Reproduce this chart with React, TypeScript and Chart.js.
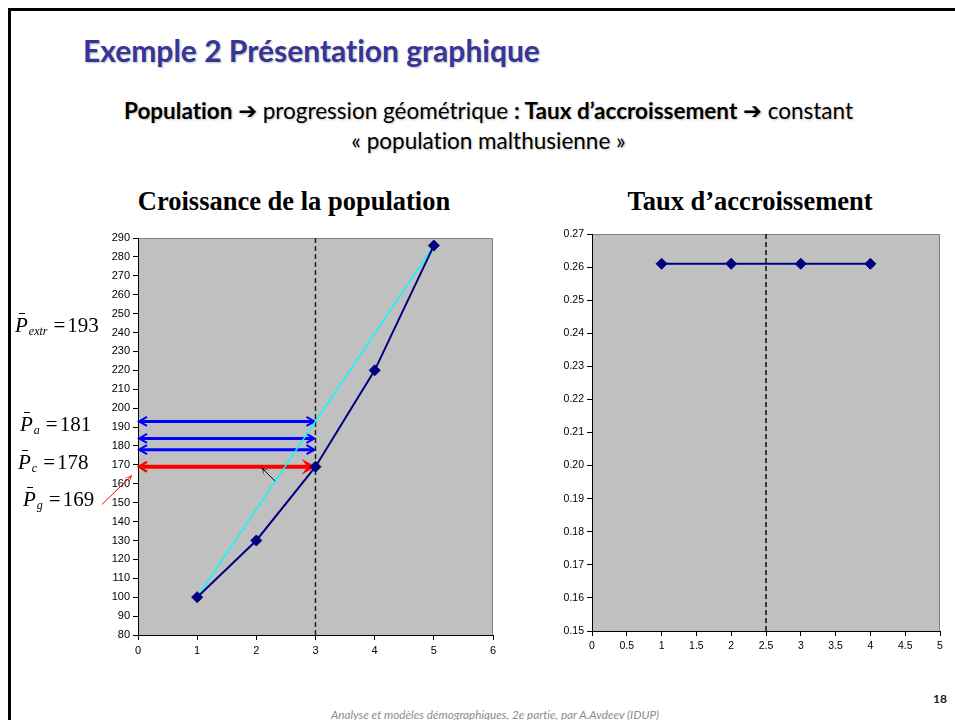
import React, { useEffect, useRef } from 'react';
import { Chart, registerables } from 'chart.js';
Chart.register(...registerables);

// ---- data ----
const years = [1, 2, 3, 4, 5];
const population = [100, 130, 169, 220, 286];
const chordYears = [1, 5];
const chordValues = [100, 286];
const refYear = 3;
const popAxis = [80, 290];
const meanLevels = [193, 184, 178]; // blue arrows
const geomMean = 169; // red arrow
const arrowSpan = [0, 3];
const pointerArrow = [[2.33, 161], [2.09, 168.5]];
const outerArrow = [[-0.61, 149], [-0.1, 164.5]];

const rateYears = [1, 2, 3, 4];
const growthRate = [0.261, 0.261, 0.261, 0.261];
const rateRef = 2.5;
const rateAxis = [0.15, 0.27];

const meanLabels = [
  { sub: 'extr', value: '193' },
  { sub: 'a', value: '181' },
  { sub: 'c', value: '178' },
  { sub: 'g', value: '169' },
];

const TICK_FONT = '"Liberation Sans", Arial, sans-serif';

const plotBg = {
  id: 'plotBg',
  beforeDraw(chart: any) {
    const { ctx, chartArea: a } = chart;
    ctx.save();
    ctx.fillStyle = '#C0C0C0';
    ctx.fillRect(a.left, a.top, a.right - a.left, a.bottom - a.top);
    ctx.strokeStyle = '#808080';
    ctx.lineWidth = 1;
    ctx.beginPath();
    ctx.moveTo(a.left, a.top + 0.5);
    ctx.lineTo(a.right - 0.5, a.top + 0.5);
    ctx.lineTo(a.right - 0.5, a.bottom);
    ctx.stroke();
    ctx.restore();
  },
};

function head(ctx: any, x1: number, y1: number, x2: number, y2: number, len: number, half: number, filled: boolean, notch = 0) {
  const ang = Math.atan2(y2 - y1, x2 - x1);
  const ux = Math.cos(ang), uy = Math.sin(ang);
  const px = -uy, py = ux;
  const bx = x2 - len * ux, by = y2 - len * uy;
  ctx.beginPath();
  if (filled) {
    ctx.moveTo(x2, y2);
    ctx.lineTo(bx + half * px, by + half * py);
    ctx.lineTo(x2 - notch * ux, y2 - notch * uy);
    ctx.lineTo(bx - half * px, by - half * py);
    ctx.closePath();
    ctx.fill();
  } else {
    ctx.moveTo(bx + half * px, by + half * py);
    ctx.lineTo(x2, y2);
    ctx.lineTo(bx - half * px, by - half * py);
    ctx.stroke();
  }
}

const arrowsPlugin = {
  id: 'arrows',
  beforeDatasetsDraw(chart: any) {
    const { ctx, scales } = chart;
    const X = (v: number) => scales.x.getPixelForValue(v);
    const Y = (v: number) => scales.y.getPixelForValue(v);
    ctx.save();
    ctx.lineCap = 'butt';
    ctx.lineJoin = 'miter';
    // blue arrows
    meanLevels.forEach((lv) => {
      const x1 = X(arrowSpan[0]) + 1, x2 = X(arrowSpan[1]) - 1, y = Y(lv);
      ctx.strokeStyle = '#0000FF';
      ctx.lineWidth = 3;
      ctx.beginPath();
      ctx.moveTo(x1 + 1, y);
      ctx.lineTo(x2 - 1, y);
      ctx.stroke();
      ctx.lineWidth = 2;
      head(ctx, x2, y, x1, y, 8, 4.5, false);
      head(ctx, x1, y, x2, y, 8, 4.5, false);
    });
    // red arrow
    {
      const x1 = X(arrowSpan[0]) + 1, x2 = X(arrowSpan[1]), y = Y(geomMean);
      ctx.strokeStyle = '#FF0000';
      ctx.fillStyle = '#FF0000';
      ctx.lineWidth = 4;
      ctx.beginPath();
      ctx.moveTo(x1 + 1, y);
      ctx.lineTo(x2 - 8, y);
      ctx.stroke();
      ctx.lineWidth = 2.5;
      head(ctx, x2, y, x1, y, 8, 5, false);
      head(ctx, x1, y, x2, y, 14, 8, true, 8);
    }
    // black pointer
    {
      const [a, b] = pointerArrow;
      const x1 = X(a[0]), y1 = Y(a[1]), x2 = X(b[0]), y2 = Y(b[1]);
      ctx.strokeStyle = '#000';
      ctx.fillStyle = '#000';
      ctx.lineWidth = 1;
      ctx.beginPath();
      ctx.moveTo(x1, y1);
      ctx.lineTo(x2, y2);
      ctx.stroke();
      head(ctx, x1, y1, x2, y2, 8, 4, true, 2);
    }
    // outer red pointer
    {
      const [a, b] = outerArrow;
      const x1 = X(a[0]), y1 = Y(a[1]), x2 = X(b[0]), y2 = Y(b[1]);
      ctx.strokeStyle = '#FF0000';
      ctx.fillStyle = '#FF0000';
      ctx.lineWidth = 1;
      ctx.beginPath();
      ctx.moveTo(x1, y1);
      ctx.lineTo(x2, y2);
      ctx.stroke();
      head(ctx, x1, y1, x2, y2, 9, 4, true, 2);
    }
    ctx.restore();
  },
};

function axisCommon(min: number, max: number, step: number, fontSize: number, fixed: number, isX: boolean, fmt?: (v: number) => string) {
  return {
    type: 'linear',
    min,
    max,
    ticks: {
      stepSize: step,
      autoSkip: false,
      maxRotation: 0,
      color: '#000',
      padding: isX ? 4 : 3,
      font: { family: TICK_FONT, size: fontSize },
      ...(fmt ? { callback: (v: any) => fmt(Number(v)) } : {}),
    },
    grid: { display: true, drawOnChartArea: false, drawTicks: true, tickLength: 5, color: '#000' },
    border: { display: true, color: '#000', width: 1 },
    afterFit(scale: any) {
      if (isX) scale.height = fixed;
      else scale.width = fixed;
    },
  };
}

function useChart(ref: any, config: () => any) {
  useEffect(() => {
    const chart = new Chart(ref.current, config());
    return () => chart.destroy();
  }, []);
}

function PopChart() {
  const ref = useRef<HTMLCanvasElement>(null);
  useChart(ref, () => ({
    type: 'scatter',
    data: {
      datasets: [
        {
          data: years.map((x, i) => ({ x, y: population[i] })),
          showLine: true,
          borderColor: '#000080',
          backgroundColor: '#000080',
          borderWidth: 2,
          pointStyle: 'rectRot',
          pointRadius: 5.5,
          pointBorderWidth: 1,
        },
        {
          data: chordYears.map((x, i) => ({ x, y: chordValues[i] })),
          showLine: true,
          borderColor: '#00FFFF',
          borderWidth: 1.5,
          pointRadius: 0,
        },
        {
          data: popAxis.map((y) => ({ x: refYear, y })),
          showLine: true,
          borderColor: '#222',
          borderWidth: 1.5,
          borderDash: [5, 3],
          pointRadius: 0,
        },
      ],
    },
    options: {
      animation: false,
      responsive: false,
      devicePixelRatio: 1,
      layout: { padding: { left: 98, right: 27, top: 18, bottom: 5 } },
      plugins: { legend: { display: false }, tooltip: { enabled: false } },
      scales: {
        x: axisCommon(0, 6, 1, 11, 30, true),
        y: axisCommon(popAxis[0], popAxis[1], 10, 11, 40, false),
      },
    },
    plugins: [plotBg, arrowsPlugin],
  }));
  return <canvas ref={ref} width={520} height={450} style={{ position: 'absolute', left: 0, top: 220, width: 520, height: 450 }} />;
}

function RateChart() {
  const ref = useRef<HTMLCanvasElement>(null);
  useChart(ref, () => ({
    type: 'scatter',
    data: {
      datasets: [
        {
          data: rateYears.map((x, i) => ({ x, y: growthRate[i] })),
          showLine: true,
          borderColor: '#000080',
          backgroundColor: '#000080',
          borderWidth: 2,
          pointStyle: 'rectRot',
          pointRadius: 5.5,
          pointBorderWidth: 1,
        },
        {
          data: rateAxis.map((y) => ({ x: rateRef, y })),
          showLine: true,
          borderColor: '#111',
          borderWidth: 1.5,
          borderDash: [5, 3],
          pointRadius: 0,
        },
      ],
    },
    options: {
      animation: false,
      responsive: false,
      devicePixelRatio: 1,
      layout: { padding: { left: 17, right: 15, top: 14, bottom: 9 } },
      plugins: { legend: { display: false }, tooltip: { enabled: false } },
      scales: {
        x: axisCommon(0, 5, 0.5, 10.5, 30, true, (v) => String(Number(v.toFixed(1)))),
        y: axisCommon(rateAxis[0], rateAxis[1], 0.01, 10.5, 45, false, (v) => v.toFixed(2)),
      },
    },
    plugins: [plotBg],
  }));
  return <canvas ref={ref} width={425} height={450} style={{ position: 'absolute', left: 530, top: 220, width: 425, height: 450 }} />;
}

function MeanLabel({ sub, value, left, top }: any) {
  return (
    <div style={{ position: 'absolute', left, top, font: '21px "Liberation Serif", "Times New Roman", serif', lineHeight: 1, whiteSpace: 'nowrap', color: '#000' }}>
      <span style={{ fontStyle: 'italic', position: 'relative' }}>
        P
        <span style={{ position: 'absolute', left: 4, top: 0, width: 6, height: 1, background: '#000' }} />
      </span>
      <span style={{ fontStyle: 'italic', fontSize: 12, position: 'relative', top: 3, marginLeft: 1 }}>{sub}</span>
      <span style={{ marginLeft: 6 }}>=</span>
      <span style={{ marginLeft: 2 }}>{value}</span>
    </div>
  );
}

const labelPos = [
  { left: 15, top: 315 },
  { left: 20, top: 414 },
  { left: 18, top: 452 },
  { left: 23, top: 489 },
];

export default function App() {
  const sans = 'Lato, "DejaVu Sans", sans-serif';
  const shadow = '1px 1px 2px rgba(0,0,0,0.25)';
  const noLig = { fontVariantLigatures: 'none' as const };
  return (
    <div style={{ position: 'absolute', left: 0, top: 0, width: 955, height: 720, overflow: 'hidden', background: '#fff' }}>
      <div style={{ position: 'absolute', left: 8, top: 8, width: 960, height: 720, borderTop: '3px solid #000', borderLeft: '3px solid #000' }} />
      <div style={{ position: 'absolute', left: 83, top: 35, font: `bold 30px ${sans}`, lineHeight: 1, color: '#35359A', whiteSpace: 'nowrap', textShadow: shadow, ...noLig }}>
        Exemple 2 Présentation graphique
      </div>
      <div style={{ position: 'absolute', left: 0, width: 977, top: 96, font: `22.5px ${sans}`, lineHeight: '29px', color: '#000', textAlign: 'center', whiteSpace: 'nowrap', textShadow: shadow, ...noLig }}>
        <div>
          <b>Population</b> <b style={{ fontFamily: '"DejaVu Sans"' }}>➔</b> progression géométrique <b>: Taux d’accroissement</b>{' '}
          <b style={{ fontFamily: '"DejaVu Sans"' }}>➔</b> constant
        </div>
        <div>« population malthusienne »</div>
      </div>
      <div style={{ position: 'absolute', left: 40, width: 508, top: 188, font: 'bold 26.5px "Liberation Serif", "Times New Roman", serif', lineHeight: 1, textAlign: 'center', whiteSpace: 'nowrap' }}>
        Croissance de la population
      </div>
      <div style={{ position: 'absolute', left: 550, width: 400, top: 188, font: 'bold 26.5px "Liberation Serif", "Times New Roman", serif', lineHeight: 1, textAlign: 'center', whiteSpace: 'nowrap' }}>
        Taux d’accroissement
      </div>
      <PopChart />
      <RateChart />
      {meanLabels.map((m, i) => (
        <MeanLabel key={i} sub={m.sub} value={m.value} left={labelPos[i].left} top={labelPos[i].top} />
      ))}
      <div style={{ position: 'absolute', left: 0, width: 990, top: 709, font: `italic 11.7px ${sans}`, lineHeight: 1, color: '#8C8C8C', textAlign: 'center', whiteSpace: 'nowrap', ...noLig }}>
        Analyse et modèles démographiques, 2e partie, par A.Avdeev (IDUP)
      </div>
      <div style={{ position: 'absolute', left: 933, top: 693, font: `bold 12px ${sans}`, lineHeight: 1, color: '#222' }}>18</div>
    </div>
  );
}
